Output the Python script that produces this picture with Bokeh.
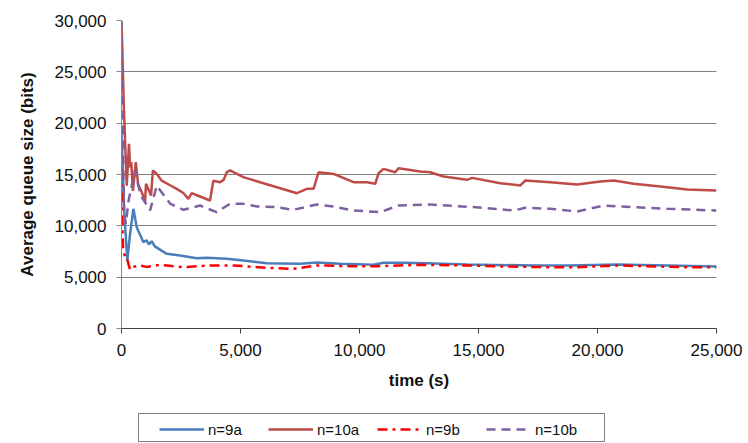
from bokeh.plotting import figure
from bokeh.layouts import column
from bokeh.models import (Legend, LegendItem, NumeralTickFormatter, FixedTicker,
                          ColumnDataSource)
from bokeh.embed import file_html
from bokeh.resources import INLINE

# Average queue size over time for four configurations
t_9a = [0, 120, 245, 350, 500, 640, 920, 1050, 1150, 1270, 1400, 1900, 2460, 3160,
        3580, 4420, 5120, 6100, 7510, 8210, 9190, 10590, 11010, 11710, 12830, 14520,
        17320, 18780, 20820, 22930, 25000]
v_9a = [19000, 11200, 6600, 9000, 11660, 9870, 8410, 8600, 8200, 8500, 8000, 7270,
        7110, 6850, 6880, 6790, 6620, 6360, 6300, 6430, 6300, 6200, 6400, 6400, 6360,
        6230, 6140, 6140, 6230, 6140, 6040]

t_10a = [0, 100, 220, 315, 360, 410, 480, 600, 700, 850, 990, 1030, 1240, 1320, 1500,
         1690, 2000, 2320, 2600, 2810, 2950, 3300, 3720, 3860, 4140, 4300, 4420, 4560,
         5120, 5820, 6530, 7370, 7790, 8070, 8280, 8910, 9750, 10310, 10660, 10800,
         11010, 11500, 11640, 12550, 12970, 13530, 14520, 14730, 15920, 16760, 16970,
         18020, 19140, 20120, 20680, 21520, 22640, 23770, 25000]
v_10a = [30000, 21500, 13900, 18000, 15700, 16200, 13400, 16200, 14000, 13300, 12300,
         14100, 12950, 15400, 15000, 14400, 14000, 13600, 13200, 12630, 13180, 12860,
         12470, 14400, 14250, 14500, 15220, 15400, 14740, 14250, 13760, 13180, 13600,
         13600, 15220, 15060, 14250, 14250, 14090, 15120, 15550, 15220, 15610, 15290,
         15220, 14800, 14480, 14670, 14150, 13930, 14415, 14250, 14030, 14320, 14415,
         14090, 13830, 13540, 13440]

t_9b = [0, 60, 150, 220, 360, 500, 780, 1060, 1620, 2600, 3720, 4700, 6100, 7220, 8210,
        9610, 10730, 11640, 12550, 14520, 15920, 18020, 19140, 20820, 23630, 25000]
v_9b = [15500, 8000, 6900, 6900, 5720, 6000, 6140, 6000, 6200, 5970, 6140, 6140, 5910,
        5810, 6140, 6070, 6070, 6140, 6200, 6140, 6040, 5970, 5970, 6140, 5970, 5970]

t_10b = [0, 100, 180, 300, 570, 800, 1200, 1480, 2040, 2600, 3300, 4000, 4560, 5120,
         5690, 6530, 7220, 8210, 8910, 9750, 10870, 11640, 12970, 15210, 16480, 16970,
         18020, 19140, 20260, 21520, 22930, 25000]
v_10b = [30000, 11500, 10200, 12500, 15400, 13000, 11500, 13900, 12170, 11560, 11980,
         11330, 12140, 12140, 11880, 11820, 11560, 12080, 11880, 11490, 11330, 11980,
         12080, 11760, 11490, 11760, 11660, 11400, 11980, 11820, 11660, 11490]

series_names = ["n=9a", "n=10a", "n=9b", "n=10b"]
x_ticks = [0, 5000, 10000, 15000, 20000, 25000]
y_ticks = [0, 5000, 10000, 15000, 20000, 25000, 30000]

FONT = "Liberation Sans"
STYLES = [
    dict(line_color="#4A7EBB", line_width=2.5),
    dict(line_color="#BE4B48", line_width=2.5),
    dict(line_color="#FF0000", line_width=2.5, line_dash="10 5 3 5"),
    dict(line_color="#7D60A0", line_width=2.5, line_dash="9 6"),
]

p = figure(width=748, height=400, output_backend="svg", toolbar_location=None,
           x_range=(0, 25000), y_range=(0, 30000),
           min_border_left=121, min_border_right=32, min_border_top=20,
           min_border_bottom=72)
p.outline_line_color = None
p.background_fill_color = "white"
p.border_fill_color = "white"

# Horizontal dotted gridlines only
p.xgrid.grid_line_color = None
p.ygrid.grid_line_color = "#000000"
p.ygrid.grid_line_dash = "1 1"
p.ygrid.grid_line_width = 1

for ax, ticks in ((p.xaxis[0], x_ticks), (p.yaxis[0], y_ticks)):
    ax.ticker = FixedTicker(ticks=ticks)
    ax.formatter = NumeralTickFormatter(format="0,0")
    ax.minor_tick_line_color = None
    ax.major_tick_in = 0
    ax.major_tick_out = 5
    ax.major_label_text_font = FONT
    ax.major_label_text_font_size = "17px"
    ax.major_label_text_color = "#111111"
    ax.major_label_standoff = 10
    ax.axis_label_text_font = FONT
    ax.axis_label_text_font_size = "17px"
    ax.axis_label_text_font_style = "bold"
    ax.axis_label_text_color = "#111111"

p.xaxis.axis_label = "time (s)"
p.xaxis.axis_line_color = "#404040"
p.xaxis.major_tick_line_color = "#404040"
p.xaxis.axis_label_standoff = 12
p.yaxis.axis_label = "Average queue size (bits)"
p.yaxis.axis_line_color = "#868686"
p.yaxis.major_tick_line_color = "#868686"
p.yaxis.axis_label_standoff = 15

series = [(t_9a, v_9a), (t_10a, v_10a), (t_9b, v_9b), (t_10b, v_10b)]
for (t, v), style in zip(series, STYLES):
    p.line(t, v, **style)

# Legend strip below the chart (its frame lines up with the chart's frame)
lg = figure(width=748, height=43, output_backend="svg", toolbar_location=None,
            x_range=(0, 1), y_range=(0, 1), min_border=0)
lg.axis.visible = False
lg.grid.visible = False
lg.outline_line_color = None
lg.background_fill_color = "white"
lg.border_fill_color = "white"

# Key renderers sit outside the visible range; they only supply legend glyphs
offscreen = ColumnDataSource(data=dict(x=[5, 6], y=[5, 6]))
blank = lg.line("x", "y", source=offscreen, line_alpha=0)
keys = [lg.line("x", "y", source=offscreen, **style) for style in STYLES]

box = Legend(items=[LegendItem(label=" ", renderers=[blank])],
             location=(17, 1), orientation="horizontal",
             padding=3, glyph_width=1, glyph_height=21,
             label_standoff=0, label_width=458, label_height=21,
             border_line_color="black", border_line_width=1,
             background_fill_color="white", background_fill_alpha=1,
             label_text_font_size="1px")
lg.add_layout(box, "center")

legend = Legend(items=[LegendItem(label=n, renderers=[r]) for n, r in
                       zip(series_names, keys)],
                location=(38, 4), orientation="horizontal",
                padding=0, spacing=10, glyph_width=45, glyph_height=20,
                label_standoff=4, label_width=50, label_height=20,
                border_line_color=None, background_fill_alpha=0,
                label_text_font=FONT, label_text_font_size="15px",
                label_text_color="#111111")
lg.add_layout(legend, "center")

open("out.html", "w").write(file_html(column(p, lg, spacing=0), INLINE))
